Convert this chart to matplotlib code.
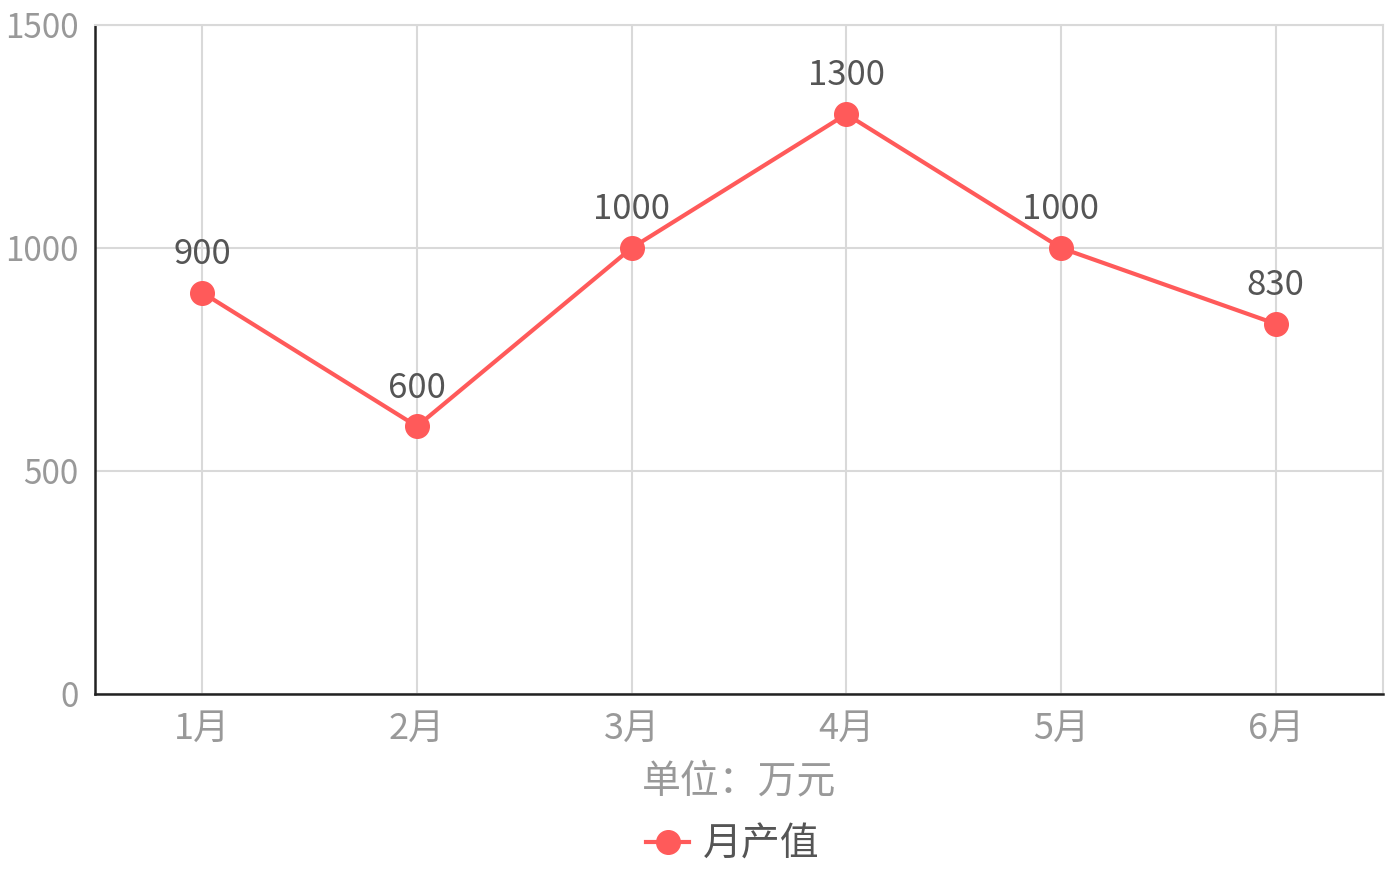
import matplotlib
matplotlib.use("Agg")
import matplotlib.pyplot as plt

plt.rcParams['font.family'] = ['Noto Sans CJK SC', 'DejaVu Sans']

months = ['1月', '2月', '3月', '4月', '5月', '6月']
output = [900, 600, 1000, 1300, 1000, 830]
y_ticks = [0, 500, 1000, 1500]

red = '#ff5a5a'
grid_c = '#d9d9d9'

fig = plt.figure(figsize=(13.96, 8.74), dpi=100)
ax = fig.add_axes([0.068, 0.206, 0.9227, 0.7654])

x = list(range(len(months)))
ax.plot(x, output, color=red, lw=3, marker='o', ms=17, label='月产值', zorder=3)

for xi, v in zip(x, output):
    ax.annotate(str(v), (xi, v), xytext=(0, 15), textcoords='offset points',
                ha='center', va='bottom', fontsize=25, color='#555555')

ax.set_xlim(-0.5, 5.5)
ax.set_ylim(0, 1500)
ax.set_xticks(x)
ax.set_xticklabels(months)
ax.set_yticks(y_ticks)
ax.tick_params(axis='both', length=0, colors='#999999')
ax.tick_params(axis='y', labelsize=24, pad=12)
ax.tick_params(axis='x', labelsize=26, pad=12)

ax.grid(True, color=grid_c, lw=1.5)
ax.set_axisbelow(True)
for s in ['top', 'right']:
    ax.spines[s].set_color(grid_c)
    ax.spines[s].set_linewidth(1.5)
for s in ['left', 'bottom']:
    ax.spines[s].set_color('#222222')
    ax.spines[s].set_linewidth(1.8)

ax.set_xlabel('单位：万元', fontsize=28, color='#999999', labelpad=11)

leg = fig.legend(loc='center', bbox_to_anchor=(0.525, 0.034), frameon=False,
                 fontsize=28, handlelength=1.1, handletextpad=0.35,
                 borderpad=0, borderaxespad=0)
for t in leg.get_texts():
    t.set_color('#555555')

fig.savefig('out.png', dpi=100)
